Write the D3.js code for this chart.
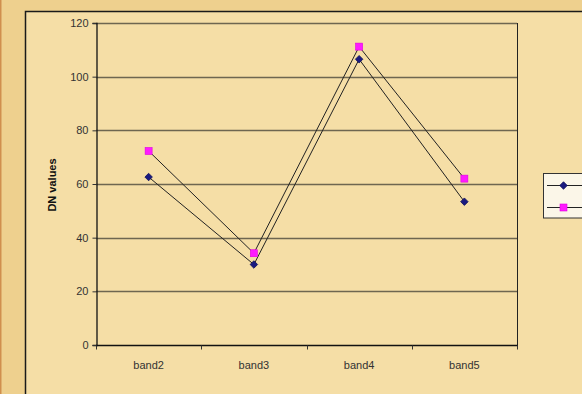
<!DOCTYPE html>
<html>
<head>
<meta charset="utf-8">
<script src="https://cdn.jsdelivr.net/npm/d3@7"></script>
<style>
  html, body { margin: 0; padding: 0; background: #eed08e; }
  svg { display: block; }
  text { font-family: Arial, "Liberation Sans", sans-serif; }
</style>
</head>
<body>
<svg id="chart" width="582" height="394"></svg>
<script>
// Bands and their DN values for the two series
const categories = ["band2", "band3", "band4", "band5"];
const seriesA = [62.6, 30.0, 106.5, 53.4];
const seriesB = [72.3, 34.2, 111.2, 62.0];
const yTicks = [0, 20, 40, 60, 80, 100, 120];
const yLabel = "DN values";

const W = 582, H = 394;
const svg = d3.select("#chart");

// Outer frame and chart area
svg.append("rect").attr("x", 0).attr("y", 0).attr("width", W).attr("height", H).attr("fill", "#eed08e");
svg.append("rect").attr("x", 0).attr("y", 0).attr("width", 1.5).attr("height", H).attr("fill", "#d08f4e");
svg.append("rect").attr("x", 25.5).attr("y", 11.5).attr("width", 600).attr("height", 420)
  .attr("fill", "#f5dea6").attr("stroke", "#1a1a1a").attr("stroke-width", 1.5);

const plot = { left: 96, right: 517, top: 23, bottom: 345 };

const x = d3.scaleBand().domain(categories).range([plot.left, plot.right]);
const y = d3.scaleLinear().domain([0, 120]).range([plot.bottom, plot.top]);

// Horizontal gridlines
svg.append("g").selectAll("line").data(yTicks.filter(d => d > 0)).join("line")
  .attr("x1", plot.left).attr("x2", plot.right)
  .attr("y1", d => Math.round(y(d)) + 0.5).attr("y2", d => Math.round(y(d)) + 0.5)
  .attr("stroke", "#6e6650").attr("stroke-width", 1.3);

// Right edge of the plot area
svg.append("line").attr("x1", plot.right + 0.5).attr("x2", plot.right + 0.5)
  .attr("y1", plot.top).attr("y2", plot.bottom).attr("stroke", "#222").attr("stroke-width", 1);

// Y axis
const yAxis = svg.append("g").attr("transform", `translate(${plot.left + 0.5},0)`)
  .call(d3.axisLeft(y).tickValues(yTicks).tickSize(4).tickPadding(4));
yAxis.select(".domain").attr("stroke", "#111").attr("stroke-width", 1.3);
yAxis.selectAll(".tick line").attr("stroke", "#333");
yAxis.selectAll("text").attr("font-size", 11).attr("fill", "#333");

// X axis with ticks between the bands
const xAxis = svg.append("g").attr("transform", `translate(0,${plot.bottom + 0.5})`);
xAxis.append("line").attr("x1", plot.left).attr("x2", plot.right + 1)
  .attr("stroke", "#111").attr("stroke-width", 1.3);
const tickPos = categories.map(c => x(c)).concat([plot.right]);
xAxis.selectAll("line.tk").data(tickPos).join("line").attr("class", "tk")
  .attr("x1", d => Math.round(d) + 0.5).attr("x2", d => Math.round(d) + 0.5)
  .attr("y1", 0).attr("y2", 4).attr("stroke", "#333");
xAxis.selectAll("text").data(categories).join("text")
  .attr("x", d => x(d) + x.bandwidth() / 2).attr("y", 23)
  .attr("text-anchor", "middle").attr("font-size", 11).attr("fill", "#333")
  .text(d => d);

// Y axis title
svg.append("text")
  .attr("transform", `translate(56,185) rotate(-90)`)
  .attr("text-anchor", "middle").attr("font-size", 11).attr("font-weight", "bold")
  .attr("fill", "#111").text(yLabel);

const cx = d => x(d) + x.bandwidth() / 2;
const line = d3.line().x(d => cx(d.c)).y(d => y(d.v));

function drawSeries(vals, marker) {
  const pts = categories.map((c, i) => ({ c, v: vals[i] }));
  svg.append("path").datum(pts).attr("d", line)
    .attr("fill", "none").attr("stroke", "#222").attr("stroke-width", 1);
  const g = svg.append("g");
  pts.forEach(p => marker(g, cx(p.c), y(p.v)));
}

const diamond = (g, px, py) => g.append("path")
  .attr("d", d3.symbol(d3.symbolDiamond2, 36)())
  .attr("transform", `translate(${px},${py})`)
  .attr("fill", "#1a1a80").attr("stroke", "#10105a").attr("stroke-width", 0.8);
const square = (g, px, py) => g.append("rect")
  .attr("x", px - 3.5).attr("y", py - 3.5).attr("width", 7).attr("height", 7)
  .attr("fill", "#ff1aff").attr("stroke", "#e000e0").attr("stroke-width", 0.6);

drawSeries(seriesA, diamond);
drawSeries(seriesB, square);

// Legend
const lg = svg.append("g");
lg.append("rect").attr("x", 543.5).attr("y", 173.5).attr("width", 60).attr("height", 44.5)
  .attr("fill", "#fbf6e8").attr("stroke", "#333").attr("stroke-width", 1);
[[185, diamond], [207, square]].forEach(([ly, m]) => {
  lg.append("line").attr("x1", 547).attr("x2", 582).attr("y1", ly + 0.5).attr("y2", ly + 0.5)
    .attr("stroke", "#222").attr("stroke-width", 1);
  m(lg, 563.5, ly + 0.5);
});
</script>
</body>
</html>
